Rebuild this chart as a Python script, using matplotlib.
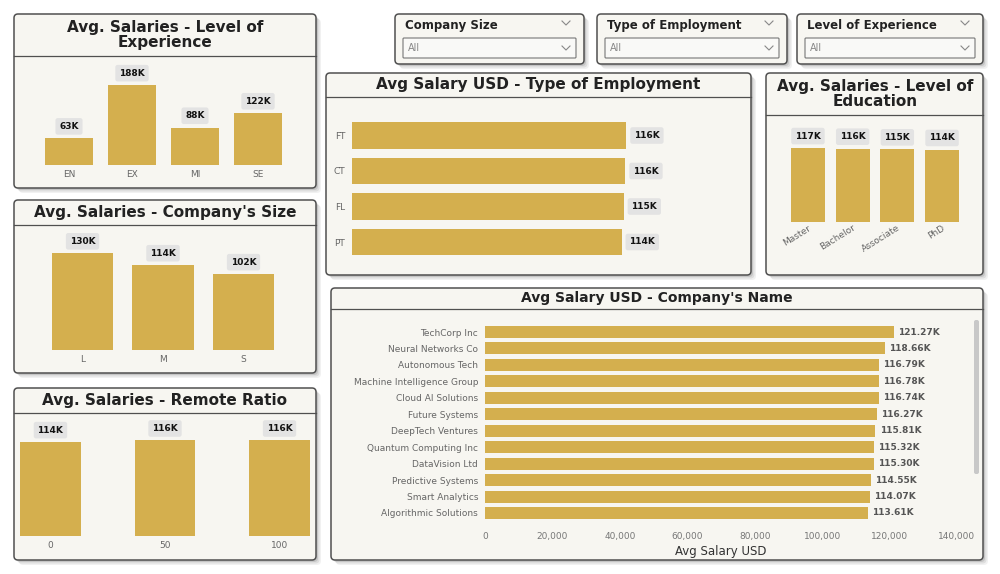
import matplotlib
matplotlib.use('Agg')
import matplotlib.pyplot as plt
from matplotlib.patches import FancyBboxPatch
from matplotlib.lines import Line2D
from matplotlib.ticker import FuncFormatter

W, H = 1000, 574
GOLD = '#D4AF4E'
PANEL = '#F7F6F1'
PILL = '#E3E3E3'

exp_levels = ['EN', 'EX', 'MI', 'SE']
exp_salary = [63, 188, 88, 122]

size_levels = ['L', 'M', 'S']
size_salary = [130, 114, 102]

remote_levels = ['0', '50', '100']
remote_salary = [114, 116, 116]

emp_types = ['FT', 'CT', 'FL', 'PT']
emp_salary = [116.2, 115.8, 115.1, 114.2]

edu_levels = ['Master', 'Bachelor', 'Associate', 'PhD']
edu_salary = [117, 116, 115, 114]

companies = ['TechCorp Inc', 'Neural Networks Co', 'Autonomous Tech',
             'Machine Intelligence Group', 'Cloud AI Solutions', 'Future Systems',
             'DeepTech Ventures', 'Quantum Computing Inc', 'DataVision Ltd',
             'Predictive Systems', 'Smart Analytics', 'Algorithmic Solutions']
company_salary = [121270, 118660, 116790, 116780, 116740, 116270,
                  115810, 115320, 115300, 114550, 114070, 113610]

slicers = ['Company Size', 'Type of Employment', 'Level of Experience']
slicer_value = 'All'

fig = plt.figure(figsize=(W / 100, H / 100), dpi=100)
fig.patch.set_facecolor('white')


def rect(x0, y0, x1, y1):
    return [x0 / W, 1 - y1 / H, (x1 - x0) / W, (y1 - y0) / H]


def fx(x):
    return x / W


def fy(y):
    return 1 - y / H


def box(x0, y0, x1, y1, fc, ec, lw=1.0, z=-2, r=4, alpha=1.0):
    p = FancyBboxPatch((fx(x0), fy(y1)), fx(x1 - x0), (y1 - y0) / H,
                       boxstyle='round,pad=0,rounding_size=%f' % (r / W),
                       mutation_aspect=W / H, transform=fig.transFigure,
                       fc=fc, ec=ec, lw=lw, zorder=z, alpha=alpha)
    fig.patches.append(p)


def panel(x0, y0, x1, y1, header=None):
    for d, a in [(5, 0.08), (3.5, 0.12), (2, 0.18)]:
        box(x0 + d, y0 + d, x1 + d, y1 + d, '#555555', 'none', z=-5, alpha=a)
    box(x0, y0, x1, y1, PANEL, '#505050', lw=1.1, z=-3)
    if header is not None:
        fig.lines.append(Line2D([fx(x0), fx(x1)], [fy(header)] * 2,
                                transform=fig.transFigure, color='#505050', lw=0.9, zorder=-2))


def chevron(cx, cy, c='#888888'):
    fig.lines.append(Line2D([fx(cx - 4), fx(cx), fx(cx + 4)],
                            [fy(cy - 2), fy(cy + 2), fy(cy - 2)],
                            transform=fig.transFigure, color=c, lw=0.8))


def pill_box():
    return dict(boxstyle='round,pad=0.42,rounding_size=0.25', fc=PILL, ec='none')


def vbar(r, cats, vals, width, xlim, ytop, rot=0):
    ax = fig.add_axes(rect(*r))
    ax.set_facecolor('none')
    ax.bar(range(len(cats)), vals, width=width, color=GOLD)
    ax.set_xlim(*xlim)
    ax.set_ylim(0, ytop)
    for s in ax.spines.values():
        s.set_visible(False)
    ax.set_yticks([])
    ax.set_xticks(range(len(cats)))
    if rot:
        ax.set_xticklabels(cats, rotation=rot, ha='right', rotation_mode='anchor')
    else:
        ax.set_xticklabels(cats)
    ax.tick_params(axis='x', length=0, labelsize=6.5, labelcolor='#666666', pad=3.5)
    for i, v in enumerate(vals):
        ax.annotate('%.0fK' % v, (i, v), xytext=(0, 8.5), textcoords='offset points',
                    ha='center', va='center', fontsize=6.5, fontweight='bold', color='#111111',
                    bbox=pill_box())
    return ax


# panels
panel(14, 14, 316, 188, 56)
fig.text(fx(165), fy(35), 'Avg. Salaries - Level of\nExperience', ha='center', va='center',
         fontsize=11, fontweight='bold', color='#222222', linespacing=1.0)
vbar((37.5, 62, 289.5, 165), exp_levels, exp_salary, 0.76, (-0.5, 3.5), 242)

panel(14, 200, 316, 373, 225)
fig.text(fx(165), fy(212), "Avg. Salaries - Company's Size", ha='center', va='center',
         fontsize=11, fontweight='bold', color='#222222')
vbar((42.25, 230, 283.75, 350), size_levels, size_salary, 0.76, (-0.5, 2.5), 161)

panel(14, 388, 316, 560, 413)
fig.text(fx(165), fy(400), 'Avg. Salaries - Remote Ratio', ha='center', va='center',
         fontsize=11, fontweight='bold', color='#222222')
vbar((20, 418, 310, 536), remote_levels, remote_salary, 0.53, (-0.266, 2.266), 143)

panel(766, 73, 983, 275, 115)
fig.text(fx(875), fy(94), 'Avg. Salaries - Level of\nEducation', ha='center', va='center',
         fontsize=11, fontweight='bold', color='#222222', linespacing=1.0)
ax = vbar((785.6, 120, 964.4, 222), edu_levels, edu_salary, 0.76, (-0.5, 3.5), 161, rot=32)
ax.tick_params(axis='x', pad=1)

# type of employment
panel(326, 73, 751, 275, 97)
fig.text(fx(538), fy(85), 'Avg Salary USD - Type of Employment', ha='center', va='center',
         fontsize=11, fontweight='bold', color='#222222')
ax = fig.add_axes(rect(352, 117.75, 740, 259.75))
ax.set_facecolor('none')
ax.barh(range(len(emp_types)), emp_salary, height=0.76, color=GOLD)
ax.set_ylim(3.5, -0.5)
ax.set_xlim(0, 164.3)
for s in ax.spines.values():
    s.set_visible(False)
ax.set_xticks([])
ax.set_yticks(range(len(emp_types)))
ax.set_yticklabels(emp_types)
ax.tick_params(axis='y', length=0, labelsize=6.5, labelcolor='#666666', pad=5)
for i, v in enumerate(emp_salary):
    ax.annotate('%.0fK' % v, (v, i), xytext=(5.5, 0), textcoords='offset points',
                ha='left', va='center', fontsize=6.5, fontweight='bold', color='#111111',
                bbox=pill_box())

# company name
panel(331, 288, 983, 560, 309)
fig.text(fx(657), fy(298), "Avg Salary USD - Company's Name", ha='center', va='center',
         fontsize=10, fontweight='bold', color='#222222')
ax = fig.add_axes(rect(485, 323.8, 957, 521.2))
ax.set_facecolor('none')
ax.barh(range(len(companies)), company_salary, height=0.73, color=GOLD)
ax.set_ylim(len(companies) - 0.5, -0.5)
ax.set_xlim(0, 140000)
for s in ax.spines.values():
    s.set_visible(False)
ax.set_yticks(range(len(companies)))
ax.set_yticklabels(companies)
ax.set_xticks(range(0, 140001, 20000))
ax.xaxis.set_major_formatter(FuncFormatter(lambda x, p: '{:,.0f}'.format(x)))
ax.tick_params(axis='y', length=0, labelsize=6.5, labelcolor='#666666', pad=5)
ax.tick_params(axis='x', length=0, labelsize=6.5, labelcolor='#777777', pad=8)
ax.set_xlabel('Avg Salary USD', fontsize=8.5, color='#333333', labelpad=3)
for i, v in enumerate(company_salary):
    ax.annotate('%.2fK' % (v / 1000), (v, i), xytext=(3, 0), textcoords='offset points',
                ha='left', va='center', fontsize=6.5, fontweight='bold', color='#555555')
box(974, 320, 979, 474, '#C8C8C8', 'none', z=-1, r=2)

# slicers
slicer_x = [(395, 584), (597, 787), (797, 983)]
for name, (x0, x1) in zip(slicers, slicer_x):
    panel(x0, 14, x1, 64)
    fig.text(fx(x0 + 10), fy(26), name, ha='left', va='center', fontsize=8.5,
             fontweight='bold', color='#222222')
    chevron(x1 - 18, 23)
    box(x0 + 8, 38, x1 - 8, 58, '#F9F9F7', '#777777', lw=0.8, z=-1, r=1)
    fig.text(fx(x0 + 13), fy(48), slicer_value, ha='left', va='center', fontsize=7,
             color='#888888')
    chevron(x1 - 18, 48)

fig.savefig('out.png', dpi=100)
